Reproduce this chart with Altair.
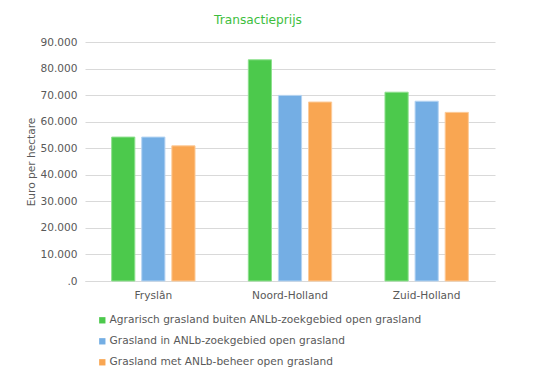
import altair as alt
import pandas as pd

regions = ["Fryslân", "Noord-Holland", "Zuid-Holland"]
series = [
    "Agrarisch grasland buiten ANLb-zoekgebied open grasland",
    "Grasland in ANLb-zoekgebied open grasland",
    "Grasland met ANLb-beheer open grasland",
]
values = {
    series[0]: [54200, 83300, 71100],
    series[1]: [54200, 69900, 67700],
    series[2]: [50900, 67400, 63500],
}
colors = ["#4CC94C", "#74AEE4", "#F9A652"]

rows = []
for si, s in enumerate(series):
    for ri, r in enumerate(regions):
        rows.append({"regio": r, "reeks": s, "waarde": values[s][ri], "order": si})
df = pd.DataFrame(rows)

font = "DejaVu Sans"
fs = 10.6

chart = (
    alt.Chart(df)
    .mark_bar(strokeWidth=1)
    .encode(
        x=alt.X(
            "regio:N",
            sort=regions,
            title=None,
            scale=alt.Scale(paddingInner=0.39, paddingOuter=0.195),
            axis=alt.Axis(
                labelAngle=0,
                domain=True,
                domainColor="#D9D9D9",
                ticks=False,
                labelPadding=9,
                labelColor="#595959",
                labelFontSize=fs,
                labelFont=font,
            ),
        ),
        xOffset=alt.XOffset(
            "reeks:N", sort=series, scale=alt.Scale(paddingInner=0.23, paddingOuter=0)
        ),
        y=alt.Y(
            "waarde:Q",
            title="Euro per hectare",
            scale=alt.Scale(domain=[0, 90000], nice=False),
            axis=alt.Axis(
                values=list(range(0, 90001, 10000)),
                labelExpr="datum.value == 0 ? '.0' : format(datum.value / 1000, '.3f')",
                domain=False,
                ticks=False,
                gridColor="#D9D9D9",
                gridWidth=1,
                labelPadding=8,
                labelColor="#595959",
                labelFontSize=fs,
                labelFont=font,
                titleColor="#595959",
                titleFontSize=fs,
                titleFont=font,
                titleFontWeight="normal",
                titlePadding=3,
            ),
        ),
        color=alt.Color(
            "reeks:N",
            sort=series,
            scale=alt.Scale(domain=series, range=colors),
            legend=alt.Legend(
                title=None,
                orient="none",
                legendX=12,
                legendY=273,
                direction="vertical",
                symbolType="square",
                symbolSize=40,
                symbolStrokeWidth=0,
                labelFont=font,
                labelFontSize=fs,
                labelColor="#595959",
                labelLimit=500,
                rowPadding=10,
                labelOffset=2,
            ),
        ),
        stroke=alt.Stroke(
            "reeks:N",
            sort=series,
            scale=alt.Scale(domain=series, range=["#8EE08E", "#B5D4F2", "#FCCB9A"]),
            legend=None,
        ),
    )
    .properties(
        width=410,
        height=239,
        padding={"left": 77, "top": 34, "right": 57, "bottom": 97},
        autosize=alt.AutoSizeParams(type="none"),
        title=alt.TitleParams(
            "Transactieprijs",
            color="#3DBE3D",
            font=font,
            fontSize=12.2,
            fontWeight="normal",
            offset=11,
            dx=-32,
        ),
    )
    .configure_view(stroke=None)
)

chart.save("out.html", embed_options={"renderer": "svg", "actions": False})
